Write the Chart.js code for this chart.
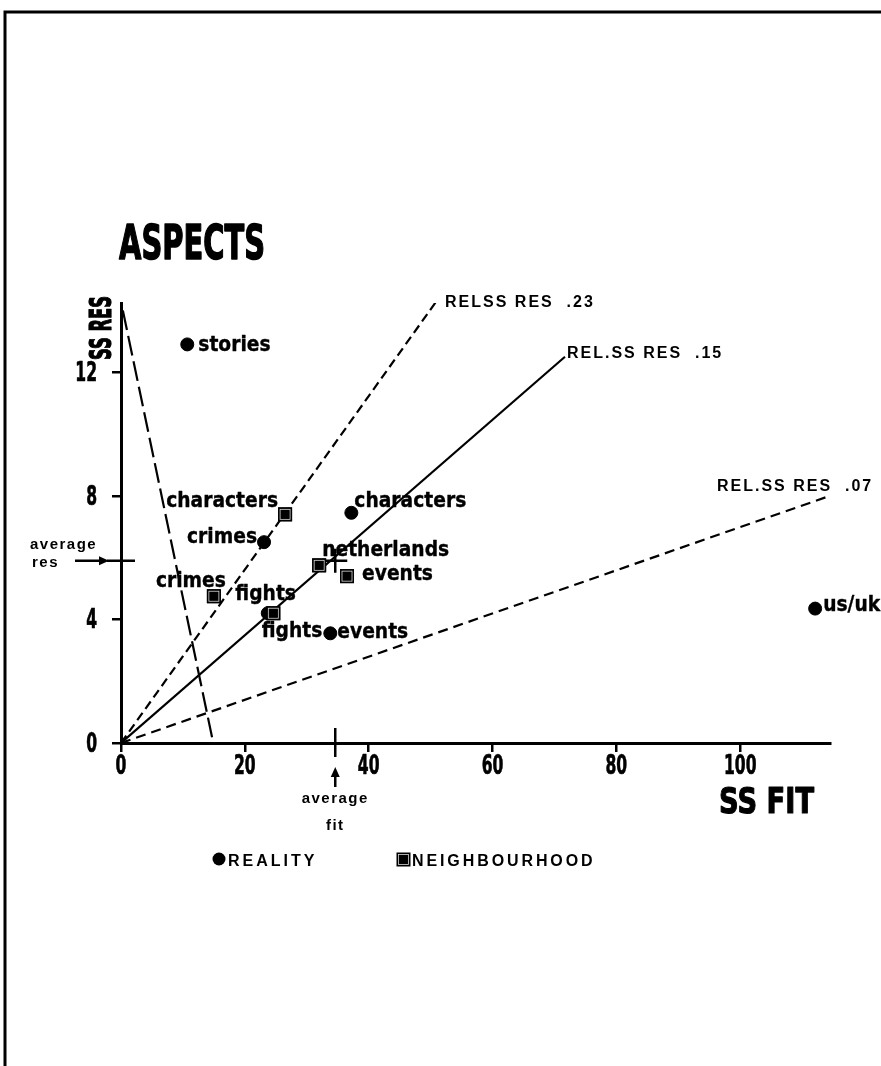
<!DOCTYPE html>
<html>
<head>
<meta charset="utf-8">
<title>Aspects</title>
<script src="https://cdn.jsdelivr.net/npm/chart.js@4.4.1/dist/chart.umd.min.js"></script>
<style>
  html, body { margin: 0; padding: 0; background: #fff; }
  canvas { display: block; }
</style>
</head>
<body>
<canvas id="aspectsChart" width="881" height="1066"></canvas>
<script>
// axis ticks
const fitTicks = [0, 20, 40, 60, 80, 100];
const resTicks = [0, 4, 8, 12];

// REALITY points
const realityNames = ["stories", "characters", "crimes", "fights", "events", "us/uk"];
const realityFit = [10.7, 37.2, 23.1, 23.7, 33.8, 112.1];
const realityRes = [12.9, 7.45, 6.5, 4.2, 3.55, 4.35];

// NEIGHBOURHOOD points
const neighbourhoodNames = ["characters", "crimes", "fights", "netherlands", "events"];
const neighbourhoodFit = [26.5, 15.0, 24.6, 32.0, 36.5];
const neighbourhoodRes = [7.4, 4.75, 4.2, 5.75, 5.4];

// averages
const averageFit = 34.6;
const averageRes = 5.9;

// reference lines of relative SS RES (from the origin to the end point)
const relNames = ["RELSS RES  .23", "REL.SS RES  .15", "REL.SS RES  .07"];
const relEndFit = [51.2, 71.7, 114.5];
const relEndRes = [14.37, 12.5, 8.0];

// steep dashed line
const steepFit = [0.3, 14.9];
const steepRes = [14.0, 0];

// label placement (pixels from the point): dx, dy, align
const realityLabelPos = [[11, 7, "left"], [3, -6, "left"], [-7, 1, "right"], [-6, 24, "left"], [7, 5, "left"], [8, 2, "left"]];
const neighbourhoodLabelPos = [[-7, -7, "right"], [-58, -9, "left"], [-38, -13, "left"], [3, -9, "left"], [15, 4, "left"]];
const relLabelPos = [[7, 8], [2, 1], [-113, -5]];

function toPoints(xs, ys) {
  return xs.map((x, i) => ({ x: x, y: ys[i] }));
}

// draw text, squeezed horizontally if needed
function drawText(ctx, str, x, y, o) {
  ctx.save();
  ctx.font = "bold " + o.size + "px " + (o.family || '"DejaVu Sans"');
  ctx.letterSpacing = (o.spacing || 0) + "px";
  let w = ctx.measureText(str).width;
  if (o.width) w = o.width;
  else if (o.squeeze) w = w * o.squeeze;
  let left = x;
  if (o.align === "center") left = x - w / 2;
  if (o.align === "right") left = x - w;
  ctx.fillStyle = "#000";
  ctx.textAlign = "left";
  ctx.textBaseline = o.baseline || "alphabetic";
  ctx.fillText(str, left, y, w);
  if (o.heavy) {
    ctx.strokeStyle = "#000";
    ctx.lineWidth = o.heavy;
    ctx.lineJoin = "round";
    ctx.strokeText(str, left, y, w);
  }
  ctx.restore();
}

function arrowHead(ctx, tipX, tipY, dir) {
  ctx.beginPath();
  if (dir === "up") {
    ctx.moveTo(tipX, tipY);
    ctx.lineTo(tipX - 4.5, tipY + 10);
    ctx.lineTo(tipX + 4.5, tipY + 10);
  } else {
    ctx.moveTo(tipX, tipY);
    ctx.lineTo(tipX - 10, tipY - 4.5);
    ctx.lineTo(tipX - 10, tipY + 4.5);
  }
  ctx.closePath();
  ctx.fill();
}

// neighbourhood marker: black square with a faint inner frame
function boxMarker(ctx, cx, cy, s) {
  ctx.save();
  ctx.fillStyle = "#000";
  ctx.fillRect(cx - s / 2, cy - s / 2, s, s);
  ctx.strokeStyle = "#d8d8d8";
  ctx.lineWidth = 0.8;
  ctx.strokeRect(cx - s / 2 + 2, cy - s / 2 + 2, s - 4, s - 4);
  ctx.fillStyle = "#000";
  ctx.fillRect(cx - s / 2 + 3, cy - s / 2 + 3, s - 6, s - 6);
  ctx.restore();
}

const paperPlugin = {
  id: "paper",
  beforeDraw(chart) {
    const ctx = chart.ctx;
    ctx.save();
    ctx.fillStyle = "#fff";
    ctx.fillRect(0, 0, chart.width, chart.height);
    // frame (top and left edge of the page)
    ctx.strokeStyle = "#000";
    ctx.lineWidth = 3;
    ctx.beginPath();
    ctx.moveTo(5, 1066);
    ctx.lineTo(5, 12);
    ctx.lineTo(881, 12);
    ctx.stroke();
    ctx.restore();
  },
  afterDatasetsDraw(chart) {
    const ctx = chart.ctx;
    chart.getDatasetMeta(1).data.forEach(p => boxMarker(ctx, p.x, p.y, 14));
  },
  afterDraw(chart) {
    const ctx = chart.ctx;
    const xs = chart.scales.x;
    const ys = chart.scales.y;
    const x0 = xs.getPixelForValue(0);
    const y0 = ys.getPixelForValue(0);

    // tick labels
    xs.ticks.forEach(t => {
      drawText(ctx, String(t.value), xs.getPixelForValue(t.value), y0 + 31, { size: 26, squeeze: 0.6, align: "center", heavy: 0.7 });
    });
    ys.ticks.forEach(t => {
      drawText(ctx, String(t.value), x0 - 24, ys.getPixelForValue(t.value) + 9, { size: 26, squeeze: 0.6, align: "right", heavy: 0.7 });
    });

    // title and axis titles
    drawText(ctx, "ASPECTS", 119, 259, { size: 48, width: 146, heavy: 1.6 });
    drawText(ctx, "SS FIT", 719, 813, { size: 35, width: 95, heavy: 1.2 });
    ctx.save();
    ctx.translate(111, 328);
    ctx.rotate(-Math.PI / 2);
    drawText(ctx, "SS RES", 0, 0, { size: 31, width: 64, align: "center", heavy: 1.2 });
    ctx.restore();

    // point labels
    const realityMeta = chart.getDatasetMeta(0);
    realityNames.forEach((name, i) => {
      const p = realityMeta.data[i];
      const pos = realityLabelPos[i];
      drawText(ctx, name, p.x + pos[0], p.y + pos[1], { size: 22, squeeze: 0.85, align: pos[2], heavy: 0.4 });
    });
    const nbMeta = chart.getDatasetMeta(1);
    neighbourhoodNames.forEach((name, i) => {
      const p = nbMeta.data[i];
      const pos = neighbourhoodLabelPos[i];
      drawText(ctx, name, p.x + pos[0], p.y + pos[1], { size: 22, squeeze: 0.85, align: pos[2], heavy: 0.4 });
    });

    // rel SS RES labels at the line ends
    relNames.forEach((name, i) => {
      const ex = xs.getPixelForValue(relEndFit[i]);
      const ey = ys.getPixelForValue(relEndRes[i]);
      drawText(ctx, name, ex + relLabelPos[i][0], ey + relLabelPos[i][1], { size: 16, spacing: 2, family: '"Liberation Sans", Arial' });
    });

    // average fit marker
    const ax = xs.getPixelForValue(averageFit);
    const ay = ys.getPixelForValue(averageRes);
    ctx.save();
    ctx.strokeStyle = "#000";
    ctx.fillStyle = "#000";
    ctx.lineWidth = 2.5;
    ctx.beginPath();
    ctx.moveTo(ax, y0 - 15);
    ctx.lineTo(ax, y0 + 14);
    ctx.moveTo(ax, y0 + 44);
    ctx.lineTo(ax, y0 + 30);
    // average res marker
    ctx.moveTo(x0 - 14, ay);
    ctx.lineTo(x0 + 14, ay);
    ctx.moveTo(75, ay);
    ctx.lineTo(100, ay);
    ctx.stroke();
    arrowHead(ctx, ax, y0 + 24, "up");
    arrowHead(ctx, x0 - 12, ay, "right");
    ctx.restore();
    drawText(ctx, "average", ax, y0 + 60, { size: 15, spacing: 1.5, align: "center", family: '"Liberation Sans", Arial' });
    drawText(ctx, "fit", ax, y0 + 87, { size: 15, spacing: 1.5, align: "center", family: '"Liberation Sans", Arial' });
    drawText(ctx, "average", 30, ay - 12, { size: 15, spacing: 1.5, family: '"Liberation Sans", Arial' });
    drawText(ctx, "res", 32, ay + 6, { size: 15, spacing: 1.5, family: '"Liberation Sans", Arial' });

    // legend
    ctx.save();
    ctx.fillStyle = "#000";
    ctx.beginPath();
    ctx.arc(219, 859, 6.5, 0, Math.PI * 2);
    ctx.fill();
    ctx.restore();
    boxMarker(ctx, 403.5, 859.5, 14);
    drawText(ctx, "REALITY", 228, 866, { size: 16, spacing: 3, family: '"Liberation Sans", Arial' });
    drawText(ctx, "NEIGHBOURHOOD", 412, 866, { size: 16, spacing: 2.9, family: '"Liberation Sans", Arial' });
  }
};

const relDash = [[9, 5], [], [10, 6]];
const lineSets = relNames.map((name, i) => ({
  label: name,
  data: [{ x: 0, y: 0 }, { x: relEndFit[i], y: relEndRes[i] }],
  showLine: true,
  borderColor: "#000",
  borderWidth: 2.2,
  borderDash: relDash[i],
  pointRadius: 0,
  order: 5
}));

new Chart(document.getElementById("aspectsChart"), {
  type: "scatter",
  data: {
    datasets: [
      {
        label: "REALITY",
        data: toPoints(realityFit, realityRes),
        pointStyle: "circle",
        pointRadius: 6.5,
        backgroundColor: "#000",
        borderColor: "#000",
        order: 1
      },
      {
        label: "NEIGHBOURHOOD",
        data: toPoints(neighbourhoodFit, neighbourhoodRes),
        pointStyle: "rect",
        pointRadius: 9.9,
        backgroundColor: "#000",
        borderColor: "#000",
        borderWidth: 0,
        order: 1
      },
      {
        label: "average",
        data: [{ x: averageFit, y: averageRes }],
        pointStyle: "cross",
        pointRadius: 12,
        borderColor: "#000",
        borderWidth: 2.5,
        order: 2
      },
      ...lineSets,
      {
        label: "steep",
        data: toPoints(steepFit, steepRes),
        showLine: true,
        borderColor: "#000",
        borderWidth: 2.2,
        borderDash: [20, 6],
        pointRadius: 0,
        order: 5
      }
    ]
  },
  options: {
    responsive: false,
    animation: false,
    events: [],
    layout: { padding: { left: 0, top: 303, right: 51, bottom: 283 } },
    plugins: { legend: { display: false }, tooltip: { enabled: false } },
    scales: {
      x: {
        type: "linear",
        min: 0,
        max: 114.5,
        afterBuildTicks: s => { s.ticks = fitTicks.map(v => ({ value: v })); },
        afterFit: s => { s.height = 40; },
        ticks: { display: false },
        grid: { drawOnChartArea: false, drawTicks: true, tickLength: 9, color: "#000", lineWidth: 2.5 },
        border: { display: true, color: "#000", width: 3 }
      },
      y: {
        type: "linear",
        min: 0,
        max: 14.24,
        afterBuildTicks: s => { s.ticks = resTicks.map(v => ({ value: v })); },
        afterFit: s => { s.width = 121; },
        ticks: { display: false },
        grid: { drawOnChartArea: false, drawTicks: true, tickLength: 9, color: "#000", lineWidth: 2.5 },
        border: { display: true, color: "#000", width: 3 }
      }
    }
  },
  plugins: [paperPlugin]
});
</script>
</body>
</html>
